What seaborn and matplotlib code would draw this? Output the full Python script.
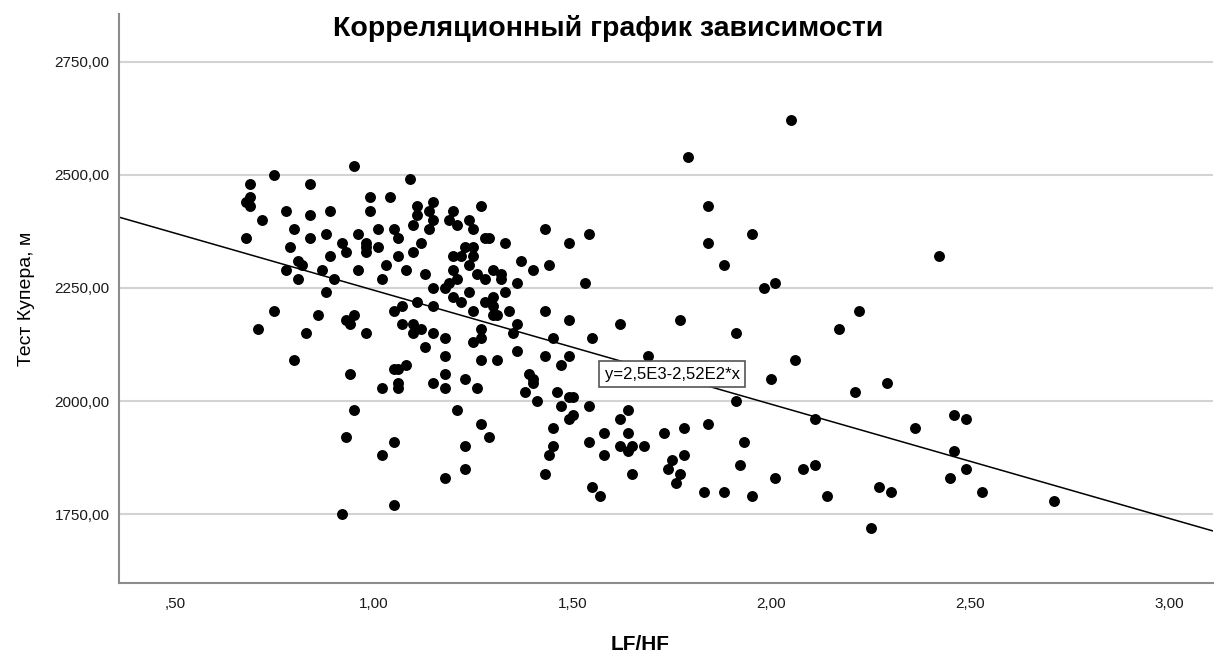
import matplotlib
matplotlib.use("Agg")
import matplotlib.pyplot as plt
import numpy as np
import pandas as pd
import seaborn as sns

# LF/HF ratio vs Cooper test distance
lf_hf = [
    0.95, 0.75, 0.69, 0.84, 1.09, 0.69, 0.68, 0.69, 0.99, 1.04,
    1.11, 1.15, 0.78, 0.84, 0.89, 0.99, 0.72, 1.11, 1.14, 1.10,
    1.15, 0.80, 1.01, 1.05, 1.14, 0.68, 0.84, 0.88, 0.96, 1.06,
    0.79, 0.92, 0.93, 0.98, 0.98, 0.98, 1.01, 1.12, 1.10, 1.06,
    0.89, 0.81, 0.82, 0.78, 0.81, 0.87, 0.90, 0.96, 1.03, 1.02,
    1.08, 1.13, 1.15, 0.88, 1.11, 1.15, 0.75, 0.86, 0.93, 0.95,
    0.94, 1.05, 1.07, 0.71, 0.83, 0.98, 1.07, 1.10, 1.12, 1.10,
    1.15, 1.13, 0.80, 1.05, 1.06, 1.08, 0.94, 1.02, 1.06, 1.06,
    1.15, 0.95, 0.93, 1.05, 1.02, 1.05, 0.92,
    1.20, 1.19, 1.21, 1.24, 1.25, 1.27, 1.28, 1.29, 1.33, 1.43,
    1.49, 1.54, 1.23, 1.25, 1.20, 1.22, 1.25, 1.37, 1.44, 1.20,
    1.24, 1.26, 1.28, 1.30, 1.32, 1.32, 1.40, 1.18, 1.19, 1.21,
    1.36, 1.53, 1.20, 1.22, 1.24, 1.25, 1.28, 1.30, 1.30, 1.30,
    1.31, 1.33, 1.34, 1.43, 1.49, 1.62, 1.36, 1.35, 1.27, 1.27,
    1.25, 1.18, 1.45, 1.55, 1.18, 1.27, 1.31, 1.36, 1.43, 1.49,
    1.47, 1.18, 1.23, 1.18, 1.26, 1.39, 1.40, 1.40, 1.38, 1.46,
    1.41, 1.49, 1.50, 1.47, 1.54, 1.21, 1.27, 1.29, 1.23, 1.23,
    1.18, 1.49, 1.50, 1.45, 1.45, 1.44, 1.43, 1.54, 1.58, 1.58,
    1.62, 1.64, 1.64, 1.62, 1.64, 1.65, 1.65, 1.55, 1.57,
    2.05, 1.79, 1.84, 1.95, 1.84, 1.88, 1.98, 2.01, 1.77, 1.91,
    2.17, 1.69, 2.06, 2.00, 1.91, 2.11, 1.84, 1.73, 1.78, 1.93,
    1.68, 1.75, 1.78, 1.74, 1.77, 1.76, 1.92, 2.11, 2.08, 2.01,
    1.83, 1.88, 1.95, 2.14,
    2.42, 2.22, 2.21, 2.29, 2.46, 2.49, 2.36, 2.46, 2.49, 2.45,
    2.27, 2.30, 2.53, 2.71, 2.25,
]
cooper_m = [
    2520, 2500, 2480, 2480, 2490, 2450, 2440, 2430, 2450, 2450,
    2430, 2440, 2420, 2410, 2420, 2420, 2400, 2410, 2420, 2390,
    2400, 2380, 2380, 2380, 2380, 2360, 2360, 2370, 2370, 2360,
    2340, 2350, 2330, 2350, 2340, 2330, 2340, 2350, 2330, 2320,
    2320, 2310, 2300, 2290, 2270, 2290, 2270, 2290, 2300, 2270,
    2290, 2280, 2250, 2240, 2220, 2210, 2200, 2190, 2180, 2190,
    2170, 2200, 2210, 2160, 2150, 2150, 2170, 2170, 2160, 2150,
    2150, 2120, 2090, 2070, 2070, 2080, 2060, 2030, 2040, 2030,
    2040, 1980, 1920, 1910, 1880, 1770, 1750,
    2420, 2400, 2390, 2400, 2380, 2430, 2360, 2360, 2350, 2380,
    2350, 2370, 2340, 2340, 2320, 2320, 2320, 2310, 2300, 2290,
    2300, 2280, 2270, 2290, 2280, 2270, 2290, 2250, 2260, 2270,
    2260, 2260, 2230, 2220, 2240, 2200, 2220, 2230, 2210, 2190,
    2190, 2240, 2200, 2200, 2180, 2170, 2170, 2150, 2160, 2140,
    2130, 2140, 2140, 2140, 2100, 2090, 2090, 2110, 2100, 2100,
    2080, 2060, 2050, 2030, 2030, 2060, 2050, 2040, 2020, 2020,
    2000, 2010, 2010, 1990, 1990, 1980, 1950, 1920, 1900, 1850,
    1830, 1960, 1970, 1940, 1900, 1880, 1840, 1910, 1930, 1880,
    1960, 1980, 1930, 1900, 1890, 1900, 1840, 1810, 1790,
    2620, 2540, 2430, 2370, 2350, 2300, 2250, 2260, 2180, 2150,
    2160, 2100, 2090, 2050, 2000, 1960, 1950, 1930, 1940, 1910,
    1900, 1870, 1880, 1850, 1840, 1820, 1860, 1860, 1850, 1830,
    1800, 1800, 1790, 1790,
    2320, 2200, 2020, 2040, 1970, 1960, 1940, 1890, 1850, 1830,
    1810, 1800, 1800, 1780, 1720,
]

# linear fit shown in the chart: y = 2,5E3 - 2,52E2 * x
fit_intercept = 2497
fit_slope = -252
fit_label = "y=2,5E3-2,52E2*x"

x_ticks = [0.5, 1.0, 1.5, 2.0, 2.5, 3.0]
x_tick_labels = [",50", "1,00", "1,50", "2,00", "2,50", "3,00"]
y_ticks = [1750, 2000, 2250, 2500, 2750]
y_tick_labels = ["1750,00", "2000,00", "2250,00", "2500,00", "2750,00"]

df = pd.DataFrame({"LF/HF": lf_hf, "cooper": cooper_m})

sns.set_style("white")
plt.rcParams['font.family'] = ['Liberation Sans', 'DejaVu Sans']
plt.rcParams['text.color'] = 'black'

fig = plt.figure(figsize=(12.16, 6.54), dpi=100)
ax = fig.add_axes([0.098, 0.109, 0.8995, 0.8696])

xmin, xmax = 0.36, 3.11
ax.set_xlim(xmin, xmax)
ax.set_ylim(1599, 2855)

# fit line
line_x = np.array([xmin, xmax])
sns.lineplot(x=line_x, y=fit_intercept + fit_slope * line_x, color="black",
             linewidth=1.1, ax=ax, zorder=2)

sns.scatterplot(data=df, x="LF/HF", y="cooper", color="black", s=62,
                linewidth=0, ax=ax, zorder=3)

ax.set_xticks(x_ticks)
ax.set_xticklabels(x_tick_labels, fontsize=11, color="#1a1a1a")
ax.set_yticks(y_ticks)
ax.set_yticklabels(y_tick_labels, fontsize=11, color="#1a1a1a")
ax.tick_params(axis="both", length=0)
ax.tick_params(axis="x", pad=10)
ax.tick_params(axis="y", pad=7)

ax.yaxis.grid(True, color="#d3d3d3", linewidth=1.5)
ax.set_axisbelow(True)

for side in ["top", "right"]:
    ax.spines[side].set_visible(False)
for side in ["left", "bottom"]:
    ax.spines[side].set_color("#8c8c8c")
    ax.spines[side].set_linewidth(1.5)

ax.set_xlabel("")
ax.set_ylabel("Тест Купера, м", fontsize=14, labelpad=14, color="black")
fig.text(640 / 1216, 1 - 644 / 654, "LF/HF", fontsize=15, fontweight="bold",
         ha="center", va="center")

ax.text(1.75, 2059, fit_label, fontsize=12, ha="center", va="center", zorder=4,
        bbox=dict(boxstyle="square,pad=0.33", facecolor="white",
                  edgecolor="#555555", linewidth=1.2))

fig.text(0.5, 0.957, "Корреляционный график зависимости", fontsize=20.5,
         fontweight="bold", ha="center", va="center")

fig.savefig("out.png", dpi=100)
